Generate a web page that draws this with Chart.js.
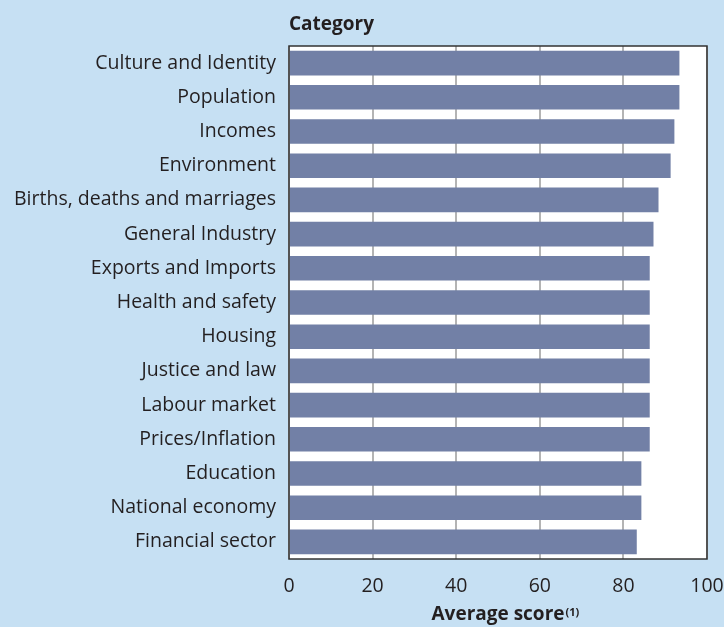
<!DOCTYPE html>
<html>
<head>
<meta charset="utf-8">
<script src="https://cdn.jsdelivr.net/npm/chart.js@4/dist/chart.umd.min.js"></script>
<style>
  html, body { margin: 0; padding: 0; background: #c6e0f3; }
  #wrap { width: 724px; height: 627px; position: relative; }
</style>
</head>
<body>
<div id="wrap"><canvas id="chart"></canvas></div>
<script>
const categories = [
  'Culture and Identity', 'Population', 'Incomes', 'Environment',
  'Births, deaths and marriages', 'General Industry', 'Exports and Imports',
  'Health and safety', 'Housing', 'Justice and law', 'Labour market',
  'Prices/Inflation', 'Education', 'National economy', 'Financial sector'
];
const scores = [93.4, 93.4, 92.2, 91.3, 88.4, 87.2, 86.3, 86.3, 86.3, 86.3, 86.3, 86.3, 84.3, 84.3, 83.2];
const xTicks = [0, 20, 40, 60, 80, 100];

const FONT = "'Open Sans', 'Noto Sans', sans-serif";
const textColor = '#231f20';

// white plot area, frame and the two titles
const framePlugin = {
  id: 'frame',
  beforeDraw(chart) {
    const { ctx, chartArea: a } = chart;
    ctx.save();
    ctx.fillStyle = '#ffffff';
    ctx.fillRect(a.left, a.top, a.right - a.left, a.bottom - a.top);
    ctx.restore();
  },
  afterDraw(chart) {
    const { ctx, chartArea: a } = chart;
    ctx.save();
    ctx.strokeStyle = '#333333';
    ctx.lineWidth = 1.5;
    ctx.strokeRect(a.left, a.top, a.right - a.left, a.bottom - a.top);

    ctx.fillStyle = textColor;
    ctx.textBaseline = 'alphabetic';
    ctx.font = `bold 19px ${FONT}`;
    ctx.textAlign = 'left';
    ctx.fillText('Category', a.left, 30);

    const main = 'Average score';
    const sup = '(1)';
    const mainW = ctx.measureText(main).width;
    const x0 = (a.left + a.right) / 2 - mainW / 2;
    ctx.fillText(main, x0, 620);
    ctx.font = `bold 11px ${FONT}`;
    ctx.fillText(sup, x0 + mainW + 1, 616);
    ctx.restore();
  }
};

new Chart(document.getElementById('chart'), {
  type: 'bar',
  data: {
    labels: categories,
    datasets: [{
      data: scores,
      backgroundColor: '#7280a6',
      borderWidth: 0,
      barPercentage: 0.72,
      categoryPercentage: 1
    }]
  },
  options: {
    indexAxis: 'y',
    responsive: true,
    maintainAspectRatio: false,
    animation: false,
    layout: { padding: { top: 46, right: 17, bottom: 0, left: 0 } },
    plugins: { legend: { display: false }, tooltip: { enabled: false } },
    scales: {
      x: {
        min: 0, max: 100,
        afterBuildTicks(axis) { axis.ticks = xTicks.map(v => ({ value: v })); },
        afterFit(axis) { axis.height = 68; axis.paddingLeft = 0; axis.paddingRight = 0; },
        border: { display: false },
        grid: { drawTicks: false, color: '#b4b4b4', lineWidth: 2 },
        ticks: { color: textColor, font: { family: FONT, size: 19.5 }, padding: 16, maxRotation: 0 }
      },
      y: {
        afterFit(axis) { axis.width = 289; axis.paddingTop = 0; axis.paddingBottom = 0; },
        border: { display: false },
        grid: { display: false, drawTicks: false },
        ticks: { color: textColor, font: { family: FONT, size: 19.5 }, padding: 13, autoSkip: false }
      }
    }
  },
  plugins: [framePlugin]
});
</script>
</body>
</html>
